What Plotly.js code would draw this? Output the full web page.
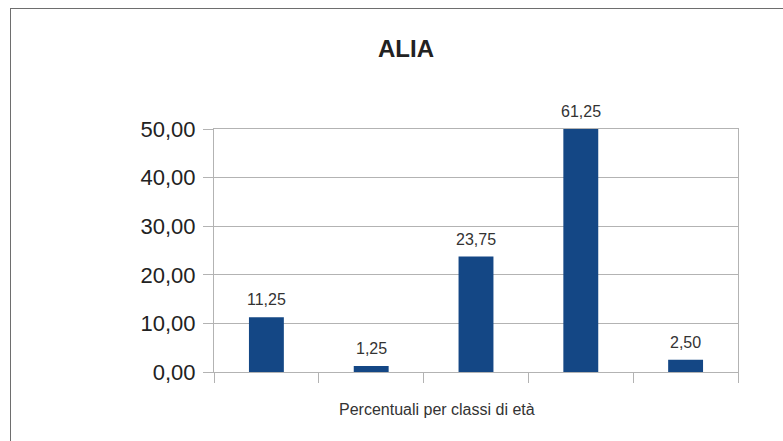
<!DOCTYPE html>
<html>
<head>
<meta charset="utf-8">
<script src="https://cdn.plot.ly/plotly-3.0.1.min.js"></script>
<style>
  html, body { margin: 0; padding: 0; background: #ffffff; }
  #frame { position: absolute; left: 10px; top: 8px; width: 900px; height: 600px;
           border-left: 1px solid #6e6e6e; border-top: 1px solid #6e6e6e; }
  #chart { position: absolute; left: 0; top: 0; width: 783px; height: 441px; }
</style>
</head>
<body>
<div id="frame"></div>
<div id="chart"></div>
<script>
const categories = ["Classe 1", "Classe 2", "Classe 3", "Classe 4", "Classe 5"];
const values = [11.25, 1.25, 23.75, 61.25, 2.50];
const yTickValues = [0, 10, 20, 30, 40, 50];
const chartTitle = "ALIA";
const xAxisTitle = "Percentuali per classi di età";

const yMax = 50;
const fontFamily = "Liberation Sans, Arial, sans-serif";

const fmt = v => v.toFixed(2).replace(".", ",");

const annotations = categories.map((c, i) => ({
  x: c, y: Math.min(values[i], yMax), xref: "x", yref: "y",
  text: fmt(values[i]), showarrow: false, yanchor: "bottom", yshift: 7,
  font: { family: fontFamily, size: 16, color: "#333333" }
}));
annotations.push({
  x: 0.4256, y: -0.156, xref: "paper", yref: "paper",
  text: xAxisTitle, showarrow: false, xanchor: "center", yanchor: "middle",
  font: { family: fontFamily, size: 16, color: "#333333" }
});

const trace = {
  type: "bar", x: categories, y: values,
  marker: { color: "#144785", line: { width: 0 } },
  hoverinfo: "none"
};

const layout = {
  width: 783, height: 441,
  margin: { l: 214, r: 45, t: 129, b: 69, pad: 0 },
  paper_bgcolor: "rgba(0,0,0,0)", plot_bgcolor: "rgba(0,0,0,0)",
  separators: ",.",
  showlegend: false,
  bargap: 0.667,
  title: {
    text: "<b>" + chartTitle + "</b>", xref: "container", yref: "container",
    x: 0.5185, y: 0.889, xanchor: "center", yanchor: "middle",
    font: { family: fontFamily, size: 24, color: "#222222" }
  },
  xaxis: {
    type: "category", range: [-0.5, 4.5], tickson: "boundaries",
    ticks: "outside", ticklen: 10, tickcolor: "#b3b3b3", tickwidth: 1,
    showticklabels: false, showgrid: false, zeroline: false,
    showline: true, linecolor: "#b3b3b3", linewidth: 1, mirror: true,
    fixedrange: true
  },
  yaxis: {
    range: [0, yMax], tickvals: yTickValues, tickformat: ".2f",
    ticks: "outside", ticklen: 10, tickcolor: "#b3b3b3", tickwidth: 1,
    showgrid: true, gridcolor: "#b3b3b3", gridwidth: 1, zeroline: false,
    showline: true, linecolor: "#b3b3b3", linewidth: 1, mirror: true,
    tickfont: { family: fontFamily, size: 22, color: "#222222" },
    ticklabelstandoff: 3,
    fixedrange: true
  },
  annotations: annotations
};

Plotly.newPlot("chart", [trace], layout, { displayModeBar: false, staticPlot: true });
</script>
</body>
</html>
